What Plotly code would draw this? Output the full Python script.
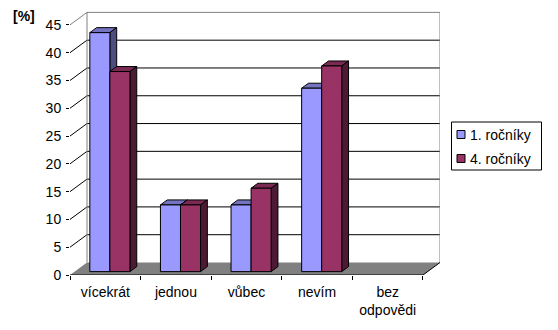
import plotly.graph_objects as go

# ---- data ----
categories = ["vícekrát", "jednou", "vůbec", "nevím", "bez<br>odpovědi"]
series_names = ["1. ročníky", "4. ročníky"]
values_1 = [43, 12, 12, 33, 0]
values_4 = [36, 12, 15, 37, 0]
y_tick_values = [0, 5, 10, 15, 20, 25, 30, 35, 40, 45]
y_axis_title = "[%]"

# ---- style ----
front_colors = ["#9999FF", "#993366"]
side_colors = ["#4D4D80", "#4D1A33"]
top_colors = ["#7373BF", "#7A2952"]
FONT = "Arial, 'Liberation Sans', sans-serif"
FS = 14

W, H = 558, 330
L, R, T, B = 70, 440, 11, 275          # plot area in pixels
DX = 0.241                              # wall depth, category units
DY = 2.25                               # wall depth, value units
BAR_W = 0.284
BAR_DEPTH0 = 0.27                       # fraction of depth where bar front sits
BAR_DEPTH = 0.40
YMAX = 47.5
n = len(categories)
xr = [-0.5, n - 0.5 + DX]

def px_x(p):
    return (p - L) / (R - L)

def px_y(p):
    return (B - p) / (B - T)

fig = go.Figure()
shapes = []

# floor
shapes.append(dict(type="path", xref="x", yref="y", layer="below",
                   path=f"M{-0.5},0 L{n-0.5},0 L{n-0.5+DX},{DY} L{-0.5+DX},{DY} Z",
                   fillcolor="#808080", line=dict(width=0)))
# back wall gridlines and left wall diagonals
top = y_tick_values[-1]
for v in y_tick_values[1:-1]:
    shapes.append(dict(type="line", xref="x", yref="y", layer="below",
                       x0=-0.5 + DX, x1=n - 0.5 + DX, y0=v + DY, y1=v + DY,
                       line=dict(color="black", width=1)))
    shapes.append(dict(type="line", xref="x", yref="y", layer="below",
                       x0=-0.5, x1=-0.5 + DX, y0=v, y1=v + DY,
                       line=dict(color="black", width=1)))
# wall borders (gray)
shapes.append(dict(type="path", xref="x", yref="y", layer="below",
                   path=(f"M{-0.5},{top} L{-0.5+DX},{top+DY} L{n-0.5+DX},{top+DY} "
                         f"L{n-0.5+DX},{DY}"),
                   line=dict(color="#808080", width=1)))
shapes.append(dict(type="line", xref="x", yref="y", layer="below",
                   x0=-0.5 + DX, x1=-0.5 + DX, y0=DY, y1=top + DY,
                   line=dict(color="#808080", width=1)))
# floor front & right edges
shapes.append(dict(type="path", xref="x", yref="y", layer="below",
                   path=f"M{-0.5},0 L{n-0.5},0 L{n-0.5+DX},{DY}",
                   line=dict(color="black", width=1)))

base = BAR_DEPTH0 * DY
sx = BAR_DEPTH * DX
sy = BAR_DEPTH * DY
x_shift = BAR_DEPTH0 * DX

for si, vals in enumerate([values_1, values_4]):
    offset = -BAR_W + si * BAR_W + x_shift
    for ci, v in enumerate(vals):
        if v <= 0:
            continue
        x0 = ci + offset
        x1 = x0 + BAR_W
        yb = base
        yt = base + v
        shapes.append(dict(type="path", xref="x", yref="y", layer="below",
                           path=f"M{x0},{yt} L{x1},{yt} L{x1+sx},{yt+sy} L{x0+sx},{yt+sy} Z",
                           fillcolor=top_colors[si], line=dict(color="black", width=1)))
        shapes.append(dict(type="path", xref="x", yref="y", layer="below",
                           path=f"M{x1},{yb} L{x1},{yt} L{x1+sx},{yt+sy} L{x1+sx},{yb+sy} Z",
                           fillcolor=side_colors[si], line=dict(color="black", width=1)))
    fig.add_trace(go.Bar(
        x=list(range(n)),
        y=[v if v > 0 else None for v in vals],
        base=base, width=BAR_W, offset=offset,
        name=series_names[si],
        marker=dict(color=front_colors[si], line=dict(color="black", width=1)),
        showlegend=False,
    ))

# manual legend
leg_l, leg_r, leg_t, leg_b = 451.5, 541.5, 122, 170
shapes.append(dict(type="rect", xref="paper", yref="paper",
                   x0=px_x(leg_l), x1=px_x(leg_r), y0=px_y(leg_b), y1=px_y(leg_t),
                   line=dict(color="black", width=1), fillcolor="white"))
annotations = []
for si, name in enumerate(series_names):
    cy = 134.5 + si * 24
    shapes.append(dict(type="rect", xref="paper", yref="paper",
                       x0=px_x(457), x1=px_x(465), y0=px_y(cy + 4), y1=px_y(cy - 4),
                       line=dict(color="black", width=1), fillcolor=front_colors[si]))
    annotations.append(dict(xref="paper", yref="paper", x=px_x(468), y=px_y(cy),
                            xanchor="left", yanchor="middle", text=name, showarrow=False,
                            font=dict(family=FONT, size=FS, color="black")))

annotations.append(dict(xref="paper", yref="paper", x=px_x(24), y=px_y(16),
                        xanchor="center", yanchor="middle", text=f"<b>{y_axis_title}</b>",
                        showarrow=False, font=dict(family=FONT, size=FS, color="black")))

fig.update_layout(
    width=W, height=H,
    margin=dict(l=L, r=W - R, t=T, b=H - B, pad=0),
    paper_bgcolor="white", plot_bgcolor="white",
    barmode="overlay",
    shapes=shapes, annotations=annotations,
    font=dict(family=FONT, size=FS, color="black"),
    xaxis=dict(range=xr, tickmode="array", tickvals=list(range(n)), ticktext=categories,
               ticks="", showgrid=False, zeroline=False, showline=False,
               ticklabelstandoff=7,
               minor=dict(tickmode="array", tickvals=[i - 0.5 for i in range(n + 1)],
                          ticks="outside", ticklen=4, tickcolor="black", showgrid=False),
               tickfont=dict(family=FONT, size=FS, color="black"), fixedrange=True),
    yaxis=dict(range=[0, YMAX], tickmode="array", tickvals=y_tick_values,
               ticks="outside", ticklen=3, tickcolor="black", showgrid=False,
               zeroline=False, showline=False, ticklabelstandoff=2,
               tickfont=dict(family=FONT, size=FS, color="black"), fixedrange=True),
    showlegend=False,
)

fig.write_html("out.html")
